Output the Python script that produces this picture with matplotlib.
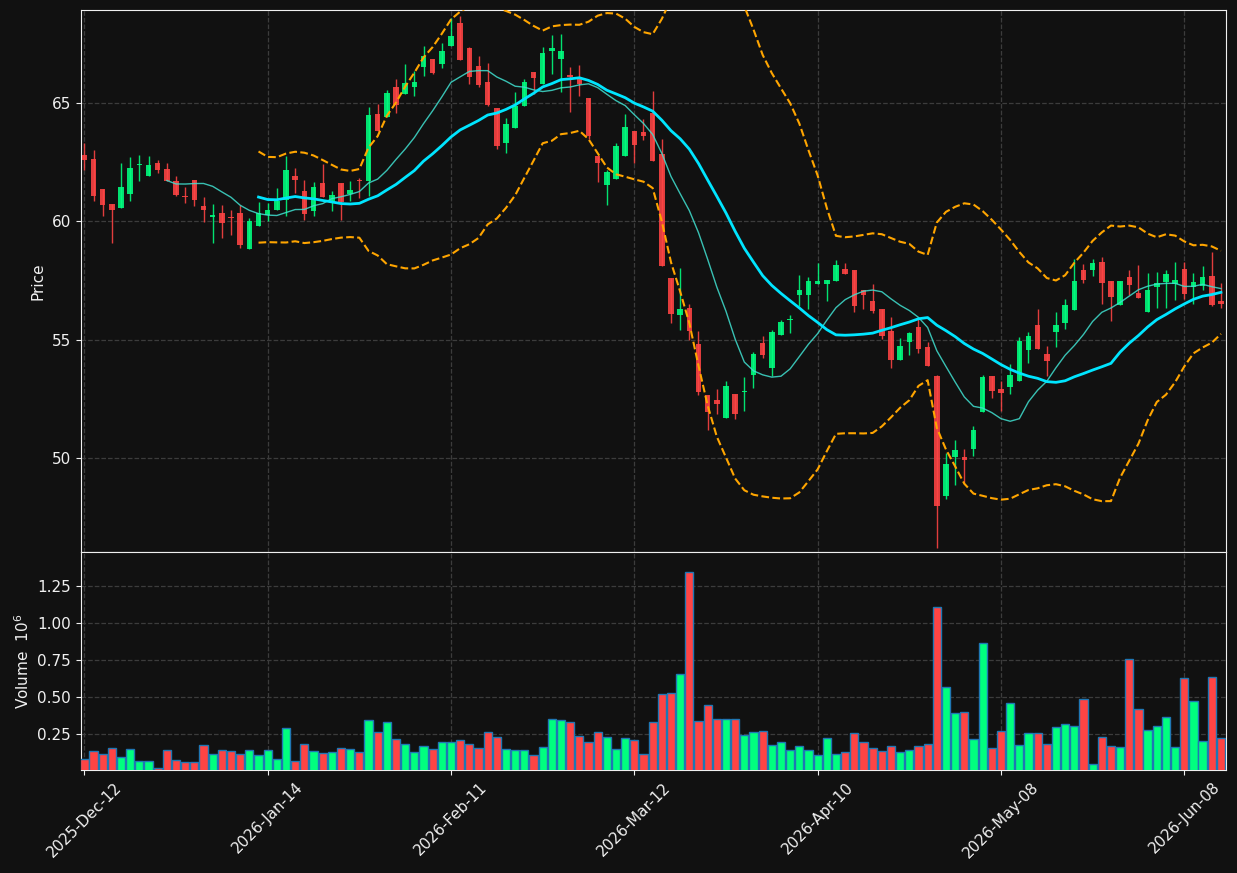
import numpy as np
import pandas as pd
import matplotlib
matplotlib.use("Agg")
import matplotlib.pyplot as plt

# ---------------------------------------
# data
# ---------------------------------------
opens = [62.81, 62.64, 61.37, 60.74, 60.58, 61.17, 62.37, 61.93, 62.48, 62.22,
         61.71, 61.08, 61.75, 60.65, 60.19, 60.36, 60.17, 60.36, 58.84, 59.78,
         60.27, 60.49, 60.88, 61.89, 61.29, 60.44, 61.60, 60.87, 61.60, 61.16,
         61.72, 61.72, 64.54, 64.42, 65.67, 65.39, 65.65, 66.53, 66.84, 66.66,
         67.42, 68.39, 67.31, 66.56, 65.89, 64.77, 63.30, 63.93, 64.87, 66.31,
         65.81, 67.21, 66.86, 66.18, 66.11, 65.21, 62.76, 61.54, 61.78, 62.74,
         63.82, 63.78, 64.56, 62.85, 57.62, 56.03, 56.35, 54.83, 52.64, 52.43,
         51.70, 52.72, 52.78, 53.50, 54.86, 53.80, 55.18, 55.82, 56.87, 56.90,
         57.36, 57.36, 57.46, 57.99, 57.95, 57.11, 56.65, 56.31, 55.38, 54.13,
         54.89, 55.55, 54.70, 53.45, 48.39, 50.04, 50.04, 50.36, 51.93, 53.45,
         52.93, 52.99, 53.24, 54.58, 55.63, 54.41, 55.31, 55.70, 56.24, 57.95,
         57.93, 58.28, 57.49, 56.46, 57.63, 56.97, 56.15, 57.21, 57.42, 57.35,
         57.99, 57.22, 57.25, 57.70, 56.62]
highs = [63.30, 63.02, 61.37, 60.74, 62.45, 62.71, 62.81, 62.74, 62.60, 62.45,
         61.92, 61.44, 61.75, 61.02, 60.74, 60.70, 60.49, 60.70, 60.13, 60.81,
         60.77, 61.40, 62.74, 62.24, 61.75, 61.65, 62.41, 61.26, 61.60, 61.68,
         61.82, 64.82, 64.94, 65.55, 66.00, 66.63, 66.35, 67.40, 66.84, 67.52,
         68.57, 68.67, 67.35, 66.98, 66.67, 64.77, 64.35, 65.44, 66.00, 66.31,
         67.38, 67.87, 67.90, 66.50, 66.60, 65.21, 62.76, 62.15, 63.30, 64.52,
         63.82, 64.31, 65.50, 63.47, 57.62, 58.02, 56.52, 55.38, 52.64, 52.92,
         53.27, 52.72, 53.43, 54.47, 55.17, 55.42, 55.84, 56.06, 57.74, 57.64,
         58.24, 57.53, 58.38, 58.23, 57.95, 57.11, 57.35, 56.31, 55.96, 55.07,
         55.32, 55.94, 54.89, 53.52, 50.22, 50.74, 50.36, 51.37, 53.52, 53.45,
         53.27, 53.99, 55.11, 55.32, 56.29, 54.72, 56.15, 56.72, 58.40, 58.21,
         58.42, 58.49, 57.49, 57.49, 57.95, 58.16, 57.81, 57.86, 57.95, 58.28,
         58.26, 57.81, 58.09, 58.70, 57.39]
lows = [62.17, 60.84, 60.23, 59.08, 60.58, 60.84, 61.68, 61.93, 62.03, 61.72,
        61.08, 60.77, 60.63, 59.95, 59.08, 59.29, 59.40, 58.87, 58.84, 59.78,
        59.99, 60.49, 60.20, 61.19, 60.04, 60.20, 61.03, 60.44, 60.06, 60.84,
        60.98, 61.05, 63.83, 64.42, 64.56, 65.39, 65.27, 66.15, 66.21, 66.46,
        67.42, 66.81, 65.80, 65.66, 64.85, 63.05, 62.90, 63.93, 64.87, 65.37,
        65.81, 66.22, 65.45, 64.61, 65.30, 63.47, 61.64, 60.70, 61.78, 62.74,
        62.45, 63.41, 62.55, 58.10, 55.70, 55.42, 55.00, 52.64, 51.20, 51.86,
        51.70, 51.63, 51.98, 52.96, 54.23, 53.45, 55.18, 55.28, 56.41, 56.29,
        57.36, 56.62, 57.46, 57.78, 56.17, 56.29, 56.13, 55.03, 53.80, 54.13,
        54.34, 54.44, 53.88, 46.21, 48.25, 48.85, 48.95, 50.08, 51.93, 52.54,
        51.98, 52.71, 53.24, 54.02, 54.61, 53.45, 54.69, 55.45, 56.24, 57.39,
        57.70, 56.52, 55.80, 56.46, 56.87, 56.74, 56.15, 56.34, 56.34, 56.69,
        56.71, 56.52, 57.11, 56.43, 56.34]
closes = [62.57, 61.08, 60.70, 60.46, 61.46, 62.26, 62.40, 62.38, 62.17, 61.72,
          61.12, 61.04, 60.91, 60.49, 60.25, 59.91, 60.12, 59.01, 60.02, 60.35,
          60.49, 60.87, 62.17, 61.75, 60.29, 61.46, 61.03, 61.12, 60.81, 61.33,
          61.70, 64.49, 63.83, 65.42, 64.92, 65.84, 65.89, 66.98, 66.28, 67.19,
          67.83, 66.81, 66.11, 65.76, 64.91, 63.16, 64.10, 64.87, 65.89, 66.07,
          67.10, 67.31, 67.18, 66.11, 65.80, 63.61, 62.48, 62.09, 63.19, 63.99,
          63.23, 63.61, 62.55, 58.10, 56.07, 56.31, 55.35, 52.78, 51.93, 52.26,
          53.02, 51.85, 52.85, 54.41, 54.37, 55.33, 55.75, 55.89, 57.11, 57.49,
          57.49, 57.53, 58.14, 57.78, 56.41, 56.87, 56.22, 55.17, 54.13, 54.75,
          55.30, 54.62, 53.88, 47.97, 49.73, 50.33, 49.91, 51.20, 53.41, 52.82,
          52.75, 53.52, 54.96, 55.14, 54.61, 54.09, 55.63, 56.48, 57.49, 57.50,
          58.25, 57.38, 56.79, 57.49, 57.29, 56.77, 57.11, 57.39, 57.78, 57.53,
          56.93, 57.43, 57.64, 56.48, 56.50]
# volume in millions
volumes = [0.079, 0.134, 0.113, 0.154, 0.097, 0.147, 0.065, 0.065, 0.024, 0.140,
           0.072, 0.059, 0.059, 0.175, 0.113, 0.140, 0.134, 0.113, 0.140, 0.106,
           0.140, 0.079, 0.290, 0.065, 0.181, 0.134, 0.120, 0.127, 0.154, 0.147,
           0.127, 0.345, 0.263, 0.331, 0.215, 0.181, 0.127, 0.168, 0.147, 0.195,
           0.195, 0.209, 0.181, 0.154, 0.263, 0.229, 0.147, 0.140, 0.140, 0.106,
           0.161, 0.352, 0.345, 0.331, 0.236, 0.195, 0.263, 0.229, 0.147, 0.222,
           0.209, 0.113, 0.331, 0.522, 0.529, 0.659, 1.348, 0.338, 0.447, 0.352,
           0.352, 0.352, 0.243, 0.263, 0.270, 0.175, 0.195, 0.140, 0.168, 0.140,
           0.106, 0.222, 0.113, 0.127, 0.256, 0.195, 0.154, 0.134, 0.168, 0.127,
           0.140, 0.168, 0.181, 1.109, 0.570, 0.393, 0.400, 0.216, 0.864, 0.154,
           0.270, 0.461, 0.175, 0.256, 0.256, 0.181, 0.297, 0.318, 0.304, 0.488,
           0.045, 0.229, 0.168, 0.161, 0.761, 0.420, 0.277, 0.304, 0.366, 0.161,
           0.632, 0.475, 0.202, 0.638, 0.222]
tick_labels = ["2025-Dec-12", "2026-Jan-14", "2026-Feb-11", "2026-Mar-12",
               "2026-Apr-10", "2026-May-08", "2026-Jun-08"]

df = pd.DataFrame({"Open": opens, "High": highs, "Low": lows,
                   "Close": closes, "Volume": volumes})
df["MA10"] = df["Close"].rolling(10).mean()
df["MA20"] = df["Close"].rolling(20).mean()
std20 = df["Close"].rolling(20).std(ddof=0)
df["BB_up"] = df["MA20"] + 2 * std20
df["BB_lo"] = df["MA20"] - 2 * std20

x = np.arange(len(df))
up = df["Close"] >= df["Open"]

# ---------------------------------------
# style
# ---------------------------------------
BG = "#111111"
FG = "#f0f0f0"
GREEN = "#00ff7f"
RED = "#ff4444"

fig = plt.figure(figsize=(12.37, 8.73), dpi=100, facecolor=BG)
ax = fig.add_axes([0.0651, 0.3677, 0.926, 0.6208])
axv = fig.add_axes([0.0651, 0.118, 0.926, 0.2497], sharex=ax)

for a in (ax, axv):
    a.set_facecolor(BG)
    for s in a.spines.values():
        s.set_color(FG)
    a.tick_params(colors=FG, labelsize=11)
    a.grid(True, color="#3c3c3c", linestyle="--", linewidth=0.9)
    a.set_axisbelow(True)

# ---------------------------------------
# candles
# ---------------------------------------
cols = np.where(up, GREEN, RED)
ax.vlines(x, df["Low"], df["High"], colors=cols, linewidth=1.0, alpha=0.88, zorder=2)
body_lo = np.minimum(df["Open"], df["Close"])
body_h = np.maximum((df["Close"] - df["Open"]).abs(), 0.04)
ax.bar(x, body_h, bottom=body_lo, width=0.6, color=cols, alpha=0.88,
       linewidth=0, zorder=3)

ax.plot(x, df["MA10"], color="#40e0d0", linewidth=1.0, alpha=0.85, zorder=4)
ax.plot(x, df["MA20"], color="#00e5ff", linewidth=2.0, zorder=4)
ax.plot(x, df["BB_up"], color="#ffa500", linewidth=1.5, linestyle="--", zorder=4)
ax.plot(x, df["BB_lo"], color="#ffa500", linewidth=1.5, linestyle="--", zorder=4)

ax.set_ylim(46.03, 68.92)
ax.set_yticks([50, 55, 60, 65])
ax.set_ylabel("Price", color=FG, fontsize=11)
ax.tick_params(axis="x", bottom=False, labelbottom=False)

# ---------------------------------------
# volume
# ---------------------------------------
axv.bar(x, df["Volume"], width=0.9, color=cols, edgecolor="#1f77b4",
        linewidth=1.0, zorder=3)
axv.set_ylim(0.3 * df["Volume"].min(), 1.1 * df["Volume"].max())
axv.set_yticks([0.25, 0.5, 0.75, 1.0, 1.25])
axv.set_yticklabels(["0.25", "0.50", "0.75", "1.00", "1.25"])
axv.set_ylabel("Volume  $10^{6}$", color=FG, fontsize=11)

tick_pos = np.arange(0, len(df), 20)
axv.set_xticks(tick_pos)
axv.set_xticklabels(tick_labels, rotation=45, ha="center")
axv.set_xlim(-0.42, len(df) - 0.45)

fig.savefig("out.png", dpi=100, facecolor=BG)
